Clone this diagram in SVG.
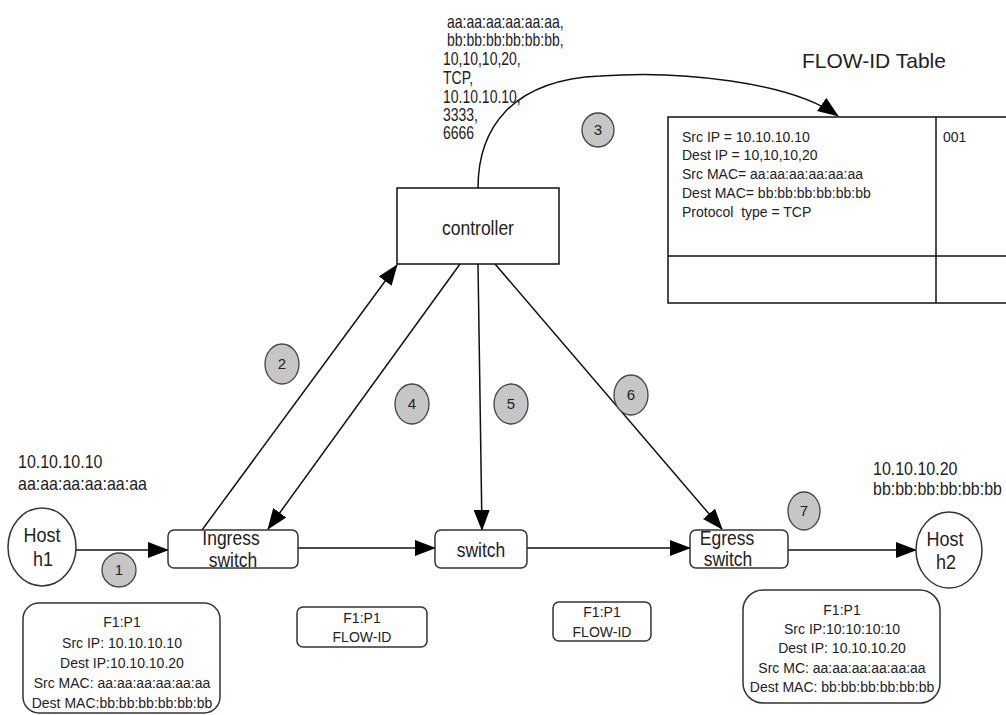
<svg xmlns="http://www.w3.org/2000/svg" width="1006" height="715" viewBox="0 0 1006 715">
<style>
text{font-family:"Liberation Sans",Arial,sans-serif;fill:#222}
.t14{font-size:14px}
.t16{font-size:16px}
.host{font-size:18px;text-anchor:middle}
.sw{font-size:17.5px;text-anchor:middle}
.c{text-anchor:middle}
.tall{transform-box:fill-box;transform-origin:center;transform:scaleY(1.15)}
.taller{transform-box:fill-box;transform-origin:center;transform:scaleY(1.25)}
.box{fill:#fff;stroke:#333;stroke-width:1.5}
.num{fill:#c6c6c6;stroke:#444;stroke-width:1.3}
.numt{font-size:15px;text-anchor:middle;fill:#222}
.conn{fill:none;stroke:#111;stroke-width:1.5}
.pre{white-space:pre}
</style>
<defs>
<marker id="ah" markerUnits="userSpaceOnUse" markerWidth="21" markerHeight="16" refX="20" refY="8" orient="auto">
<path d="M0,0 L21,8 L0,16 z" fill="#000"/>
</marker>
</defs>
<rect width="1006" height="715" fill="#fff"/>

<g id="connectors">
<path class="conn" d="M478,188 C478,130 510,80 600,76 C680,70 790,82 838,116" marker-end="url(#ah)"/>
<line class="conn" x1="76" y1="550" x2="168" y2="550" marker-end="url(#ah)"/>
<line class="conn" x1="298" y1="548" x2="435" y2="548" marker-end="url(#ah)"/>
<line class="conn" x1="527" y1="548" x2="690" y2="548" marker-end="url(#ah)"/>
<line class="conn" x1="788" y1="550" x2="916" y2="550" marker-end="url(#ah)"/>
<line class="conn" x1="202" y1="530" x2="397" y2="265" marker-end="url(#ah)"/>
<line class="conn" x1="460" y1="264" x2="268" y2="529" marker-end="url(#ah)"/>
<line class="conn" x1="478" y1="264" x2="482" y2="530" marker-end="url(#ah)"/>
<line class="conn" x1="495" y1="264" x2="722" y2="529" marker-end="url(#ah)"/>
</g>

<g id="flow-info">
<text class="t14 taller" x="447" y="27">aa:aa:aa:aa:aa:aa,</text>
<text class="t14 taller" x="447" y="45">bb:bb:bb:bb:bb:bb,</text>
<text class="t14 taller" x="443" y="64">10,10,10,20,</text>
<text class="t14 taller" x="443" y="83">TCP,</text>
<text class="t14 taller" x="443" y="102">10.10.10.10,</text>
<text class="t14 taller" x="443" y="120">3333,</text>
<text class="t14 taller" x="443" y="138">6666</text>
</g>

<g id="flowid-table">
<text x="802" y="68" style="font-size:21px">FLOW-ID Table</text>
<rect x="668" y="117" width="400" height="186" fill="#fff" stroke="#111" stroke-width="1.5"/>
<line x1="936" y1="117" x2="936" y2="303" stroke="#111" stroke-width="1.5"/>
<line x1="668" y1="256" x2="1006" y2="256" stroke="#111" stroke-width="1.5"/>
<text class="t14" x="682" y="142">Src IP = 10.10.10.10</text>
<text class="t14" x="682" y="160">Dest IP = 10,10,10,20</text>
<text class="t14" x="682" y="179">Src MAC= aa:aa:aa:aa:aa:aa</text>
<text class="t14" x="682" y="198">Dest MAC= bb:bb:bb:bb:bb:bb</text>
<text class="t14 pre" x="682" y="217">Protocol  type = TCP</text>
<text class="t14" x="943" y="142">001</text>
</g>

<g id="controller">
<rect x="397" y="188" width="162" height="76" fill="#fff" stroke="#111" stroke-width="1.5"/>
<text class="sw tall" x="478" y="234">controller</text>
</g>

<g id="host-h1">
<text class="t16 tall" x="18" y="467">10.10.10.10</text>
<text class="t16 tall" x="18" y="489">aa:aa:aa:aa:aa:aa</text>
<ellipse cx="42" cy="547" rx="34" ry="39" fill="#fff" stroke="#333" stroke-width="1.5"/>
<text class="host tall" x="42" y="541">Host</text>
<text class="host tall" x="43" y="565">h1</text>
</g>

<g id="ingress-switch">
<rect class="box" x="168" y="530" width="130" height="38" rx="6"/>
<text class="sw tall" x="231" y="544">Ingress</text>
<text class="sw tall" x="233" y="566">switch</text>
</g>

<g id="switch">
<rect class="box" x="435" y="530" width="92" height="38" rx="6"/>
<text class="sw tall" x="481" y="556">switch</text>
</g>

<g id="egress-switch">
<rect class="box" x="690" y="530" width="98" height="38" rx="6"/>
<text class="sw tall" x="727" y="544">Egress</text>
<text class="sw tall" x="728" y="565">switch</text>
</g>

<g id="host-h2">
<text class="t16 tall" x="873" y="474">10.10.10.20</text>
<text class="t16 tall" x="873" y="494">bb:bb:bb:bb:bb:bb</text>
<ellipse cx="949" cy="550" rx="33" ry="38" fill="#fff" stroke="#333" stroke-width="1.5"/>
<text class="host tall" x="945" y="545">Host</text>
<text class="host tall" x="946" y="568">h2</text>
</g>

<g id="packet-h1">
<rect class="box" x="23" y="603" width="197" height="110" rx="16"/>
<text class="t14 c" x="122" y="627">F1:P1</text>
<text class="t14 c" x="122" y="648">Src IP: 10.10.10.10</text>
<text class="t14 c" x="122" y="668">Dest IP:10.10.10.20</text>
<text class="t14 c" x="122" y="688">Src MAC: aa:aa:aa:aa:aa:aa</text>
<text class="t14 c" x="122" y="708">Dest MAC:bb:bb:bb:bb:bb:bb</text>
</g>

<g id="packet-ingress">
<rect class="box" x="297" y="607" width="130" height="40" rx="6"/>
<text class="t14 c" x="362" y="623">F1:P1</text>
<text class="t14 c" x="362" y="642">FLOW-ID</text>
</g>

<g id="packet-switch">
<rect class="box" x="553" y="602" width="98" height="39" rx="6"/>
<text class="t14 c" x="602" y="617">F1:P1</text>
<text class="t14 c" x="602" y="637">FLOW-ID</text>
</g>

<g id="packet-h2">
<rect class="box" x="743" y="590" width="197" height="113" rx="20"/>
<text class="t14 c" x="842" y="615">F1:P1</text>
<text class="t14 c" x="842" y="634">Src IP:10:10:10:10</text>
<text class="t14 c" x="842" y="653">Dest IP: 10.10.10.20</text>
<text class="t14 c" x="842" y="673">Src MC: aa:aa:aa:aa:aa:aa</text>
<text class="t14 c" x="842" y="692">Dest MAC: bb:bb:bb:bb:bb:bb</text>
</g>

<g id="step-1"><ellipse class="num" cx="119" cy="570" rx="17" ry="17"/><text class="numt" x="119" y="575">1</text></g>
<g id="step-2"><ellipse class="num" cx="282" cy="364" rx="17" ry="20"/><text class="numt" x="282" y="369">2</text></g>
<g id="step-3"><ellipse class="num" cx="598" cy="130" rx="16" ry="17"/><text class="numt" x="598" y="135">3</text></g>
<g id="step-4"><ellipse class="num" cx="412" cy="404" rx="17" ry="20"/><text class="numt" x="412" y="409">4</text></g>
<g id="step-5"><ellipse class="num" cx="511" cy="404" rx="17" ry="20"/><text class="numt" x="511" y="409">5</text></g>
<g id="step-6"><ellipse class="num" cx="631" cy="395" rx="17" ry="20"/><text class="numt" x="631" y="400">6</text></g>
<g id="step-7"><ellipse class="num" cx="804" cy="511" rx="16" ry="19"/><text class="numt" x="804" y="516">7</text></g>
</svg>
